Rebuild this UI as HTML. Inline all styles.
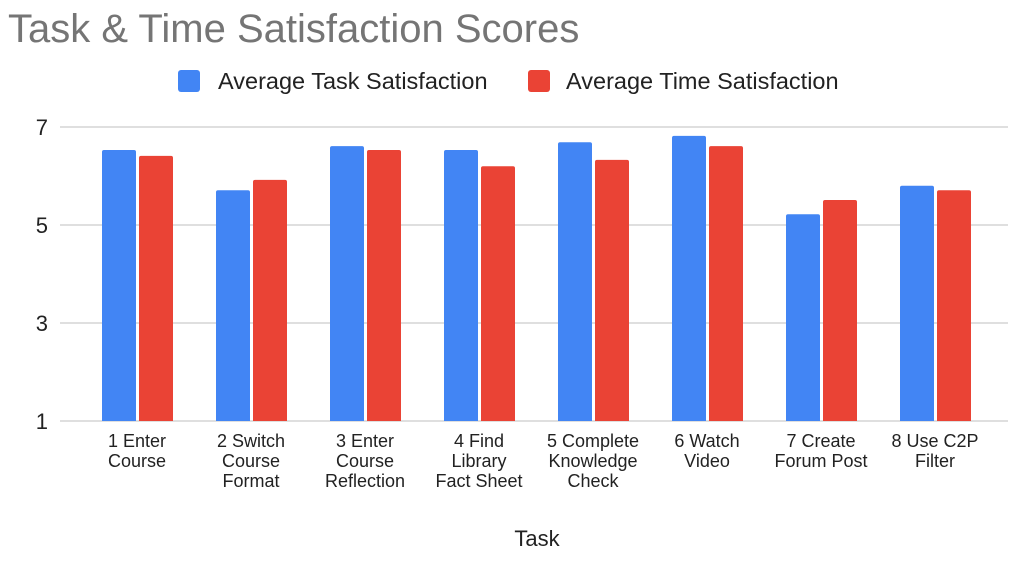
<!DOCTYPE html>
<html><head><meta charset="utf-8"><style>
body{margin:0;background:#fff;font-family:"Liberation Sans",Arial,sans-serif;}
svg text{font-family:"Liberation Sans",Arial,sans-serif;}
</style></head><body>
<svg id="chart" width="1034" height="566" xmlns="http://www.w3.org/2000/svg">
<rect width="1034" height="566" fill="#fff"/>
<text x="8" y="42" font-size="40" fill="#757575">Task &amp; Time Satisfaction Scores</text>
<g>
<g><rect x="178" y="70" width="22" height="22" rx="3" fill="#4285f4"/><text x="218" y="89" font-size="23.5" fill="#222">Average Task Satisfaction</text></g>
<g><rect x="528" y="70" width="22" height="22" rx="3" fill="#ea4335"/><text x="566" y="89" font-size="23.5" fill="#222">Average Time Satisfaction</text></g>
</g>
<g id="grid"></g><g id="bars"></g><g id="labels"></g>
<text x="537" y="546" font-size="22" text-anchor="middle" fill="#222">Task</text>
</svg>
<script>
const categories=[["1 Enter","Course"],["2 Switch","Course","Format"],["3 Enter","Course","Reflection"],["4 Find","Library","Fact Sheet"],["5 Complete","Knowledge","Check"],["6 Watch","Video"],["7 Create","Forum Post"],["8 Use C2P","Filter"]];
const taskSat=[6.53,5.71,6.61,6.53,6.69,6.82,5.22,5.80];
const timeSat=[6.41,5.92,6.53,6.20,6.33,6.61,5.51,5.71];
const yTicks=[1,3,5,7];
const NS="http://www.w3.org/2000/svg";
const y=v=>421-(v-1)*49;
const step=114, x0=80;
const cx=i=>x0+step*(i+0.5);
const grid=document.getElementById('grid'),bars=document.getElementById('bars'),labels=document.getElementById('labels');
yTicks.forEach(t=>{
 const l=document.createElementNS(NS,'line');
 
 
 l.setAttribute('x1',60);l.setAttribute('x2',1008);l.setAttribute('y1',y(t));l.setAttribute('y2',y(t));
 l.setAttribute('stroke','#ccc');l.setAttribute('stroke-width',1.3);
 grid.appendChild(l);
 const tx=document.createElementNS(NS,'text');
 
 
 tx.setAttribute('x',48);tx.setAttribute('y',y(t)+8);tx.setAttribute('font-size',22);tx.setAttribute('fill','#222');tx.setAttribute('text-anchor','end');
 tx.textContent=t;grid.appendChild(tx);
});
categories.forEach((c,i)=>{
 [[taskSat,'#4285f4',-35],[timeSat,'#ea4335',2]].forEach(([arr,col,off],k)=>{
  const r=document.createElementNS(NS,'path');
  
  
  const xl=cx(i)+off, w=34, yt=y(arr[i]), rr=2;
  r.setAttribute('d',`M${xl},421 V${yt+rr} Q${xl},${yt} ${xl+rr},${yt} H${xl+w-rr} Q${xl+w},${yt} ${xl+w},${yt+rr} V421 Z`);
  r.setAttribute('fill',col);
  bars.appendChild(r);
 });
 const tx=document.createElementNS(NS,'text');
 
 
 tx.setAttribute('font-size',18);tx.setAttribute('fill','#222');tx.setAttribute('text-anchor','middle');
 c.forEach((s,j)=>{const ts=document.createElementNS(NS,'tspan');ts.setAttribute('x',cx(i));ts.setAttribute('y',447+j*20);ts.textContent=s;tx.appendChild(ts);});
 labels.appendChild(tx);
});
</script>
</body></html>
